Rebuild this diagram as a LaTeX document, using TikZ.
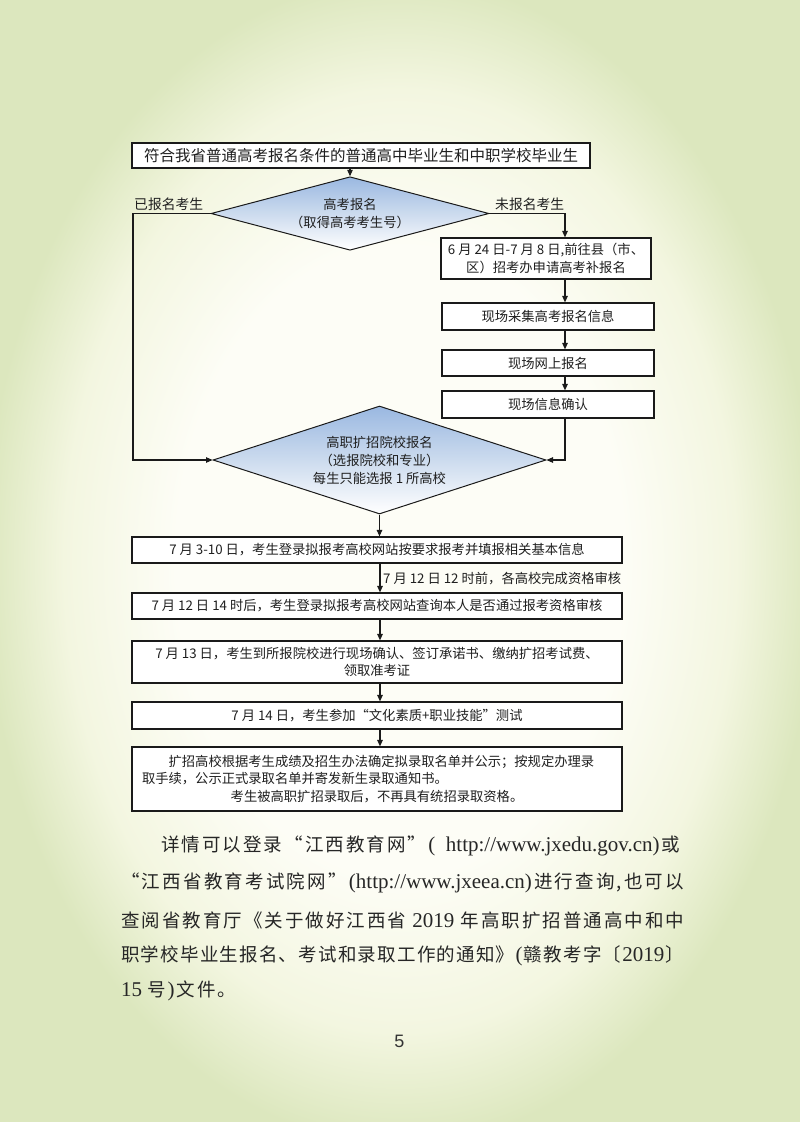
\documentclass[tikz,border=0pt]{standalone}
\usepackage{fontspec}
\setmainfont{Liberation Serif}
\newfontfamily\cjk{Noto Sans CJK SC}
\newfontfamily\pnum{Liberation Sans}
\usetikzlibrary{shapes.geometric,arrows.meta}
\definecolor{bgA}{HTML}{FDFDF6}
\definecolor{bgB}{HTML}{F3F6E0}
\definecolor{bgC}{HTML}{DCE7BE}
\definecolor{dmtop}{HTML}{9AB8E1}
\definecolor{dmmid}{HTML}{CCDBEE}
\definecolor{ln}{HTML}{1A1A1A}
\pgfdeclareradialshading{pagebg}{\pgfpoint{0bp}{0bp}}{color(0bp)=(bgA); color(14bp)=(bgA); color(21bp)=(bgB); color(26bp)=(bgC); color(50bp)=(bgC)}
\newcommand\lat[1]{\mbox{\rmfamily\fontsize{21}{21}\selectfont#1}}
% spread characters: each character followed by \sprskip
\newcommand\sprend{}
\newcommand\sprskip{\hfil}
\newcommand\spr[1]{\sprloop#1\sprend}
\def\sprloop#1{\ifx#1\sprend\else#1\sprskip\expandafter\sprloop\fi}
\begin{document}
\begin{tikzpicture}[x=1pt,y=-1pt,
  base/.style={font=\cjk\fontsize{13.3}{17.5}\selectfont, text=black!88},
  box/.style={base, draw=ln, line width=1.2pt, fill=white, inner sep=0pt, align=center},
  dia/.style={base, diamond, draw=ln, line width=1pt, top color=dmtop, bottom color=white, middle color=dmmid, inner sep=0pt, align=center},
  arr/.style={draw=ln, line width=1.1pt, -{Triangle[length=6.5pt,width=5.5pt]}},
  lab/.style={base, inner sep=1pt},
  para/.style={anchor=west, inner sep=0pt, font=\cjk\fontsize{18.5}{18.5}\selectfont, text=black!85}
]
\useasboundingbox (0,0) rectangle (800,1122);
\path[shading=pagebg] (0,0) rectangle (800,1122);

% named guide coordinates
\coordinate (lx) at (133,0);
\coordinate (rx) at (565,0);
\coordinate (cx) at (380,0);

% nodes
\node[box, minimum width=458pt, minimum height=25pt, font=\cjk\fontsize{15.5}{18}\selectfont] (top) at (361,155.5) {符合我省普通高考报名条件的普通高中毕业生和中职学校毕业生};
\node[dia, aspect=3.78, minimum width=278pt, minimum height=73.5pt] (d1) at (350,213.5) {高考报名\\（取得高考考生号）};
\node[box, minimum width=210pt, minimum height=41pt] (bA) at (546,258.5) {6 月 24 日-7 月 8 日,前往县（市、\\区）招考办申请高考补报名};
\node[box, minimum width=212pt, minimum height=27pt] (bB) at (548,316.5) {现场采集高考报名信息};
\node[box, minimum width=212pt, minimum height=26pt] (bC) at (548,363) {现场网上报名};
\node[box, minimum width=212pt, minimum height=27pt] (bD) at (548,404.5) {现场信息确认};
\node[dia, aspect=3.08, minimum width=333pt, minimum height=108pt, font=\cjk\fontsize{13.3}{18}\selectfont] (d2) at (379.5,460) {高职扩招院校报名\\（选报院校和专业）\\每生只能选报 1 所高校};
\node[box, minimum width=490pt, minimum height=26pt] (b1) at (377,550) {7 月 3-10 日，考生登录拟报考高校网站按要求报考并填报相关基本信息};
\node[box, minimum width=490pt, minimum height=26pt] (b2) at (377,606) {7 月 12 日 14 时后，考生登录拟报考高校网站查询本人是否通过报考资格审核};
\node[box, minimum width=490pt, minimum height=42pt] (b3) at (377,662) {7 月 13 日，考生到所报院校进行现场确认、签订承诺书、缴纳扩招考试费、\\领取准考证};
\node[box, minimum width=490pt, minimum height=27pt] (b4) at (377,715.5) {7 月 14 日，考生参加“文化素质+职业技能”测试};
\node[box, minimum width=490pt, minimum height=64pt, text width=470pt, align=left] (b5) at (377,779) {\hspace*{2em}扩招高校根据考生成绩及招生办法确定拟录取名单并公示；按规定办理录\\取手续，公示正式录取名单并寄发新生录取通知书。\\\makebox[470pt][c]{考生被高职扩招录取后，不再具有统招录取资格。}};

% labels
\node[lab, anchor=south west, font=\cjk\fontsize{13.8}{17}\selectfont] (l1) at (133,212) {已报名考生};
\node[lab, anchor=south west, font=\cjk\fontsize{13.8}{17}\selectfont] (l2) at (494,212) {未报名考生};
\node[lab, anchor=west] (l3) at (382,579) {7 月 12 日 12 时前，各高校完成资格审核};

% connectors
\draw[arr] (top.south -| d1.north) -- (d1.north);
\draw[arr] (d1.west) -- (d1.west -| lx) -- (d2.west -| lx) -- (d2.west);
\draw[arr] (d1.east) -- (d1.east -| rx) -- (rx |- bA.north);
\draw[arr] (rx |- bA.south) -- (rx |- bB.north);
\draw[arr] (rx |- bB.south) -- (rx |- bC.north);
\draw[arr] (rx |- bC.south) -- (rx |- bD.north);
\draw[arr] (rx |- bD.south) -- (d2.east -| rx) -- (d2.east);
\draw[arr] (d2.south) -- (d2.south |- b1.north);
\draw[arr] (cx |- b1.south) -- (cx |- b2.north);
\draw[arr] (cx |- b2.south) -- (cx |- b3.north);
\draw[arr] (cx |- b3.south) -- (cx |- b4.north);
\draw[arr] (cx |- b4.south) -- (cx |- b5.north);

% paragraph
\node[para] (p1) at (161,846) {\hbox to 519pt{\spr{详情可以登录“江西教育网”}\lat{(\ \ http://www.jxedu.gov.cn)}\hfil 或}};
\node[para] (p2) at (121,883) {\hbox to 563pt{\spr{“江西省教育考试院网”}\lat{(http://www.jxeea.cn)}\hfil\spr{进行查询,也可}以}};
\node[para] (p3) at (121,920) {\hbox to 563pt{\spr{查阅省教育厅《关于做好江西省}\hskip 4pt\lat{2019}\hskip 4pt\hfil\spr{年高职扩招普通高中和}中}};
\node[para] (p4) at (121,956) {\hbox to 563pt{\spr{职学校毕业生报名、考试和录取工作的通知》}\lat{(}\hfil\spr{赣教考字〔}\lat{2019}\hfil 〕}};
\node[para] (p5) at (121,991) {\hbox{\def\sprskip{\hskip 2pt}\lat{15}\hskip 5pt\spr{号}\lat{)}\hskip 2pt\spr{文件}。}};

% page number
\node[font=\pnum\fontsize{18}{18}\selectfont, text=black!80] (pg) at (399.5,1041.5) {5};
\end{tikzpicture}
\end{document}
